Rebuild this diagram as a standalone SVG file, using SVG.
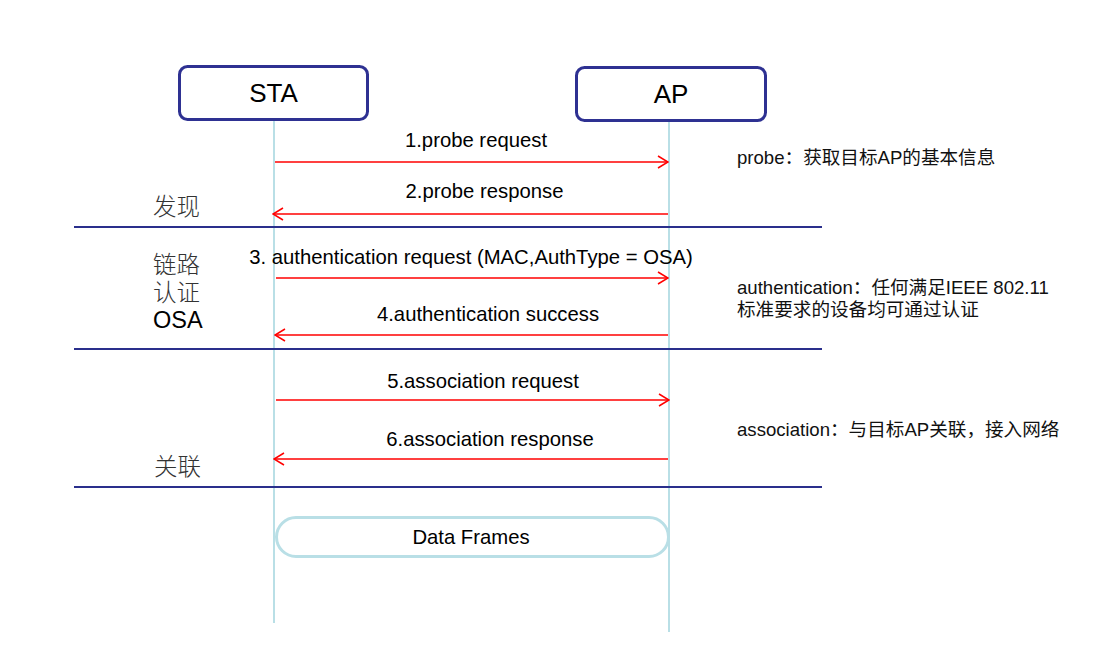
<svg xmlns="http://www.w3.org/2000/svg" width="1112" height="662" viewBox="0 0 1112 662">
<style>
.box{fill:#fff;stroke:#2e3192;stroke-width:3}
.life{stroke:#b9dfe6;stroke-width:2;fill:none}
.msg{stroke:#ff0000;stroke-width:1.5;fill:none}
.div{stroke:#2a2f8c;stroke-width:2}
.t{font-family:"Liberation Sans","Noto Sans CJK SC",sans-serif;fill:#000}
.m{font-size:20.3px}
.cj{font-family:"Liberation Sans","Noto Sans CJK SC",sans-serif;font-size:23.5px;fill:#333;font-weight:300}
.note{font-family:"Liberation Sans","Noto Sans CJK SC",sans-serif;font-size:18.6px;fill:#111}
</style>
<defs>
<marker id="ah" viewBox="0 0 12 14" refX="11" refY="7" markerWidth="12" markerHeight="14" markerUnits="userSpaceOnUse" orient="auto">
<path d="M1,1 L11,7 L1,13" fill="none" stroke="#ff0000" stroke-width="1.5"/>
</marker>
</defs>
<rect width="1112" height="662" fill="#fff"/>
<g id="lifelines">
<line class="life" x1="274" y1="120" x2="274" y2="623"/>
<line class="life" x1="669" y1="121" x2="669" y2="632"/>
</g>
<g id="STA">
<rect class="box" x="179.5" y="66.5" width="188" height="53" rx="8"/>
<text class="t" x="273.5" y="102" font-size="26" text-anchor="middle">STA</text>
</g>
<g id="AP">
<rect class="box" x="576.5" y="67.5" width="189" height="53" rx="8"/>
<text class="t" x="671" y="103" font-size="26" text-anchor="middle">AP</text>
</g>
<g id="dividers">
<line class="div" x1="74" y1="227" x2="822" y2="227"/>
<line class="div" x1="74" y1="349" x2="822" y2="349"/>
<line class="div" x1="74" y1="487" x2="822" y2="487"/>
</g>
<g id="phase-labels">
<text class="cj" x="153" y="215">发现</text>
<text class="cj" x="153" y="273">链路</text>
<text class="cj" x="153" y="301">认证</text>
<text class="t" x="153" y="328" font-size="23.5">OSA</text>
<text class="cj" x="154" y="475">关联</text>
</g>
<g id="connectors">
<line class="msg" x1="275" y1="162" x2="668" y2="162" marker-end="url(#ah)"/>
<line class="msg" x1="668" y1="214" x2="273" y2="214" marker-end="url(#ah)"/>
<line class="msg" x1="276" y1="278" x2="668" y2="278" marker-end="url(#ah)"/>
<line class="msg" x1="668" y1="335" x2="275" y2="335" marker-end="url(#ah)"/>
<line class="msg" x1="276" y1="400" x2="669" y2="400" marker-end="url(#ah)"/>
<line class="msg" x1="668" y1="459" x2="274" y2="459" marker-end="url(#ah)"/>
</g>
<g id="message-labels">
<text class="t m" x="476" y="147" text-anchor="middle">1.probe request</text>
<text class="t m" x="484.5" y="198" text-anchor="middle">2.probe response</text>
<text class="t m" x="471" y="264" text-anchor="middle">3. authentication request (MAC,AuthType = OSA)</text>
<text class="t m" x="488" y="321" text-anchor="middle">4.authentication success</text>
<text class="t m" x="483" y="388" text-anchor="middle">5.association request</text>
<text class="t m" x="490" y="446" text-anchor="middle">6.association response</text>
</g>
<g id="data-frames">
<rect x="276.5" y="517.5" width="392" height="39" rx="19.5" fill="#fff" stroke="#b9dfe6" stroke-width="3"/>
<text class="t m" x="471" y="544" text-anchor="middle">Data Frames</text>
</g>
<g id="notes">
<text class="note" x="737" y="164">probe：获取目标AP的基本信息</text>
<text class="note" x="737" y="294">authentication：任何满足IEEE 802.11</text>
<text class="note" x="737" y="316">标准要求的设备均可通过认证</text>
<text class="note" x="737" y="436">association：与目标AP关联，接入网络</text>
</g>
</svg>
